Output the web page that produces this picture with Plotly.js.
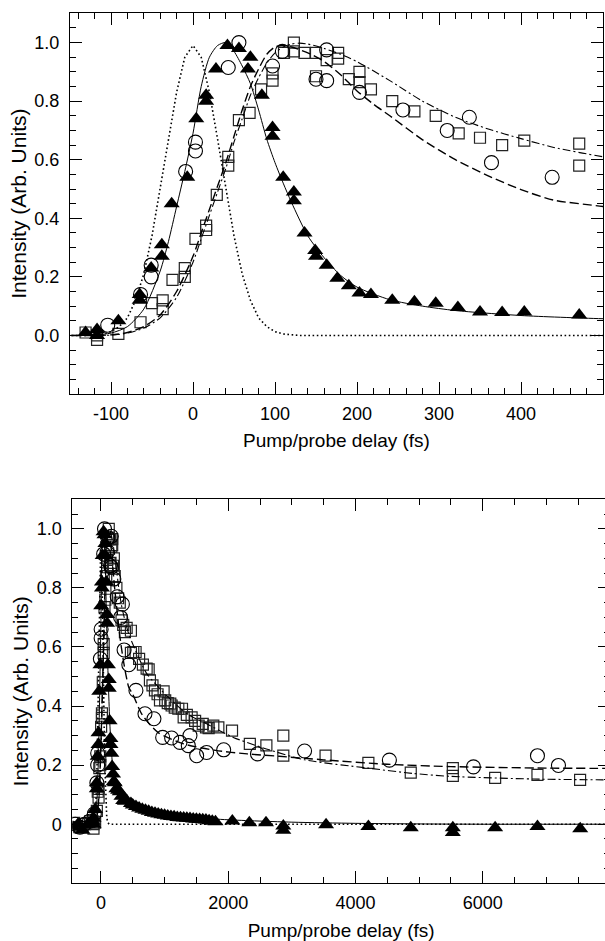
<!DOCTYPE html>
<html>
<head>
<meta charset="utf-8">
<script src="https://cdn.plot.ly/plotly-3.0.1.min.js"></script>
<style>
html,body{margin:0;padding:0;overflow:hidden;background:#fff;}
#chart{width:612px;height:941px;}
</style>
</head>
<body>
<div id="chart"></div>
<script>
// ---------- data ----------
// short-delay scan (shown in both panels)
const triX = [-131,-117,-117,-91,-65,-65,-51,-38,-38,-26,-7,4,16,16,28,42,56,70,67,84,97,97,110,123,123,136,149,150,163,176,190,203,217,243,270,296,323,350,377,404,471];
const triY = [0.01,0.02,0.0,0.05,0.14,0.12,0.23,0.31,0.27,0.45,0.54,0.74,0.82,0.80,0.91,0.99,0.98,0.95,0.91,0.82,0.71,0.68,0.54,0.49,0.46,0.35,0.29,0.27,0.24,0.195,0.17,0.145,0.14,0.12,0.115,0.11,0.095,0.08,0.078,0.08,0.07];
const cirX = [-104,-64,-51,-51,-9,3,3,43,56,97,109,150,163,163,203,256,310,337,364,438];
const cirY = [0.035,0.14,0.24,0.2,0.56,0.66,0.63,0.915,1.0,0.92,0.97,0.875,0.87,0.975,0.83,0.77,0.70,0.745,0.59,0.54];
const sqX = [-131,-117,-117,-91,-64,-50,-37,-37,-25,-10,-10,3,16,16,29,43,43,56,69,83,97,97,111,123,123,136,150,150,163,177,177,190,203,203,217,243,270,296,324,350,377,404,471,471];
const sqY = [0.01,0.0,-0.015,0.005,0.045,0.11,0.12,0.09,0.19,0.23,0.2,0.33,0.375,0.36,0.48,0.61,0.58,0.735,0.76,0.84,0.87,0.895,0.965,1.0,0.97,0.965,0.965,0.885,0.94,0.965,0.945,0.875,0.9,0.865,0.84,0.8,0.765,0.75,0.69,0.675,0.65,0.665,0.655,0.58];

// additional long-delay points (lower panel only)
const triLX = [-440,-360,-290,-210,500,550,600,650,700,750,800,850,900,950,1000,1050,1100,1150,1200,1250,1300,1350,1400,1450,1500,1550,1600,1650,1700,1750,1800,2065,2332,2594,2866,2866,3538,4203,4869,5530,5530,6195,6860,7532];
const triLY = [-0.01,0.0,-0.02,0.0,0.065,0.06,0.055,0.051,0.047,0.044,0.04,0.037,0.035,0.032,0.03,0.028,0.026,0.025,0.023,0.022,0.021,0.02,0.019,0.018,0.017,0.016,0.015,0.014,0.012,0.01,0.008,0.011,0.005,0.005,-0.006,-0.02,-0.002,-0.008,-0.012,-0.012,-0.028,-0.012,-0.008,-0.015];
const cirLX = [-400,-330,-260,-180,550,692,833,970,1111,1242,1373,1399,1504,1661,1929,2460,3200,4533,5854,6860,7190];
const cirLY = [0.0,-0.01,0.0,0.01,0.453,0.374,0.357,0.294,0.292,0.277,0.266,0.3,0.232,0.243,0.252,0.238,0.248,0.217,0.194,0.232,0.199];
const sqLX = [-420,-340,-250,-170,508,545,600,660,718,750,770,810,849,890,928,985,1010,1050,1090,1111,1160,1216,1274,1300,1350,1425,1480,1536,1600,1651,1693,1766,1845,2060,2340,2600,2866,2866,3530,4203,4869,5530,5530,6195,6860,7530];
const sqLY = [0.005,-0.01,0.0,0.01,0.583,0.583,0.56,0.54,0.527,0.524,0.487,0.47,0.453,0.44,0.419,0.45,0.419,0.41,0.408,0.402,0.395,0.391,0.391,0.362,0.37,0.362,0.35,0.334,0.34,0.328,0.325,0.334,0.328,0.317,0.272,0.267,0.3,0.232,0.232,0.208,0.175,0.19,0.164,0.157,0.167,0.15];

// fit curves
const solidX = [-450,-150,-120,-100,-80,-60,-40,-30,-20,-10,0,10,20,30,40,50,60,70,80,90,100,110,120,140,160,180,200,240,280,320,400,500,700,1000,1500,2000,3000,4000,5000,6000,8000];
const solidY = [0,0,0.002,0.008,0.03,0.09,0.22,0.32,0.44,0.56,0.69,0.85,0.95,0.99,1.0,0.97,0.92,0.86,0.77,0.67,0.59,0.52,0.455,0.34,0.265,0.205,0.165,0.122,0.1,0.085,0.068,0.057,0.045,0.035,0.022,0.015,0.007,0.003,0.001,0,0];
const dashX = [-450,-150,-120,-100,-80,-60,-40,-20,0,10,20,30,40,50,60,70,80,90,100,110,120,140,160,180,200,220,240,280,320,360,400,440,500,650,900,1300,1800,2300,2800,3500,4500,5500,7000,8000];
const dashY = [0,0,0,0.002,0.01,0.03,0.07,0.15,0.27,0.35,0.43,0.51,0.59,0.68,0.77,0.85,0.91,0.96,0.985,0.99,0.985,0.965,0.935,0.89,0.835,0.79,0.75,0.668,0.6,0.545,0.498,0.462,0.44,0.37,0.31,0.272,0.25,0.238,0.23,0.218,0.203,0.195,0.19,0.189];
const dashDotX = [-450,-150,-120,-100,-80,-60,-40,-20,0,10,20,30,40,50,60,70,80,90,100,110,120,130,140,160,180,200,240,280,320,360,400,440,500,720,1030,1350,1660,2080,2600,3200,4200,4900,5500,6800,8000];
const dashDotY = [0,0,0,0.001,0.008,0.025,0.06,0.13,0.25,0.33,0.41,0.49,0.57,0.66,0.74,0.82,0.88,0.93,0.965,0.985,0.995,0.998,0.995,0.98,0.96,0.935,0.87,0.8,0.745,0.705,0.672,0.642,0.61,0.51,0.436,0.374,0.34,0.294,0.255,0.218,0.19,0.172,0.162,0.153,0.15];
const dotX = [-450,-130,-110,-100,-90,-80,-70,-60,-50,-40,-30,-20,-10,0,10,20,30,40,50,60,70,80,90,100,110,130,8000];
const dotY = [0,0,0.005,0.013,0.03,0.06,0.12,0.21,0.34,0.5,0.67,0.83,0.95,0.99,0.95,0.83,0.67,0.5,0.34,0.21,0.12,0.06,0.03,0.013,0.005,0,0];

// tick labels
const topXTickVals = [-100,0,100,200,300,400];
const topXTickText = ['-100','0','100','200','300','400'];
const topYTickVals = [0,0.2,0.4,0.6,0.8,1.0];
const topYTickText = ['0.0','0.2','0.4','0.6','0.8','1.0'];
const botXTickVals = [0,2000,4000,6000];
const botXTickText = ['0','2000','4000','6000'];
const botYTickVals = [0,0.2,0.4,0.6,0.8,1.0];
const botYTickText = ['0','0.2','0.4','0.6','0.8','1.0'];

const xTitle = 'Pump/probe delay (fs)';
const yTitle = 'Intensity (Arb. Units)';

// ---------- build ----------
const W = 612, H = 941;
const FONT = 'Liberation Sans, Arial, Helvetica, sans-serif';

function curveTraces(xa, ya) {
  return [
    {x: dotX, y: dotY, mode: 'lines', xaxis: xa, yaxis: ya,
     line: {color: 'black', width: 1.6, dash: '1.6px,2.6px'}},
    {x: solidX, y: solidY, mode: 'lines', xaxis: xa, yaxis: ya,
     line: {color: 'black', width: 1, shape: 'spline', smoothing: 0.7}},
    {x: dashX, y: dashY, mode: 'lines', xaxis: xa, yaxis: ya,
     line: {color: 'black', width: 1.4, dash: '9px,4px', shape: 'spline', smoothing: 0.7}},
    {x: dashDotX, y: dashDotY, mode: 'lines', xaxis: xa, yaxis: ya,
     line: {color: 'black', width: 1.1, dash: '8px,3px,2px,3px', shape: 'spline', smoothing: 0.7}}
  ];
}
function markerTraces(xa, ya, sx, sy, cx, cy, tx, ty) {
  return [
    {x: sx, y: sy, mode: 'markers', xaxis: xa, yaxis: ya,
     marker: {symbol: 'square-open', size: 11, color: '#222', line: {width: 1.2, color: '#222'}}},
    {x: cx, y: cy, mode: 'markers', xaxis: xa, yaxis: ya,
     marker: {symbol: 'circle-open', size: 14, color: 'black', line: {width: 1.1, color: 'black'}}},
    {x: tx, y: ty, mode: 'markers', xaxis: xa, yaxis: ya,
     marker: {symbol: 'triangle-up', size: 14, color: 'black', line: {width: 0}}}
  ];
}

const traces = [].concat(
  markerTraces('x', 'y', sqX, sqY, cirX, cirY, triX, triY),
  curveTraces('x', 'y'),
  markerTraces('x2', 'y2', sqX.concat(sqLX), sqY.concat(sqLY), cirX.concat(cirLX), cirY.concat(cirLY), triX.concat(triLX), triY.concat(triLY)),
  curveTraces('x2', 'y2')
);

function axisBase() {
  return {
    showline: true, linecolor: 'black', linewidth: 1, mirror: 'allticks',
    ticks: 'inside', ticklen: 12, tickwidth: 1, tickcolor: 'black',
    showgrid: false, zeroline: false, fixedrange: true,
    tickfont: {family: FONT, size: 18, color: 'black'},
    tickmode: 'array', automargin: false
  };
}

const layout = {
  width: W, height: H,
  margin: {l: 0, r: 0, t: 0, b: 0, pad: 0},
  paper_bgcolor: 'white', plot_bgcolor: 'white',
  showlegend: false, hovermode: false,
  font: {family: FONT, color: 'black'},
  xaxis: Object.assign(axisBase(), {
    domain: [70 / W, 603 / W], range: [-150, 500], anchor: 'y',
    tickvals: topXTickVals, ticktext: topXTickText, ticklabelstandoff: 3,
    minor: {dtick: 20, tick0: 0, ticks: 'inside', ticklen: 6, tickwidth: 1, tickcolor: 'black', showgrid: false},
    title: {text: xTitle, font: {family: FONT, size: 19, color: 'black'}, standoff: 11}
  }),
  yaxis: Object.assign(axisBase(), {
    domain: [1 - 394 / H, 1 - 13.3 / H], range: [-0.2, 1.1], anchor: 'x',
    tickvals: topYTickVals, ticktext: topYTickText, ticklabelstandoff: 6,
    minor: {dtick: 0.05, tick0: 0, ticks: 'inside', ticklen: 6, tickwidth: 1, tickcolor: 'black', showgrid: false},
    title: {text: yTitle, font: {family: FONT, size: 21, color: 'black'}, standoff: 2}
  }),
  xaxis2: Object.assign(axisBase(), {
    domain: [72.3 / W, 610 / W], range: [-450, 8000], anchor: 'y2',
    tickvals: botXTickVals, ticktext: botXTickText, ticklabelstandoff: 3,
    minor: {dtick: 500, tick0: 0, ticks: 'inside', ticklen: 6, tickwidth: 1, tickcolor: 'black', showgrid: false},
    title: {text: xTitle, font: {family: FONT, size: 19, color: 'black'}, standoff: 11}
  }),
  yaxis2: Object.assign(axisBase(), {
    domain: [1 - 883.3 / H, 1 - 499.3 / H], range: [-0.2, 1.1], anchor: 'x2',
    tickvals: botYTickVals, ticktext: botYTickText, ticklabelstandoff: 6,
    minor: {dtick: 0.05, tick0: 0, ticks: 'inside', ticklen: 6, tickwidth: 1, tickcolor: 'black', showgrid: false},
    title: {text: yTitle, font: {family: FONT, size: 21, color: 'black'}, standoff: 2}
  })
};

Plotly.newPlot('chart', traces, layout, {staticPlot: true, displayModeBar: false});
</script>
</body>
</html>
